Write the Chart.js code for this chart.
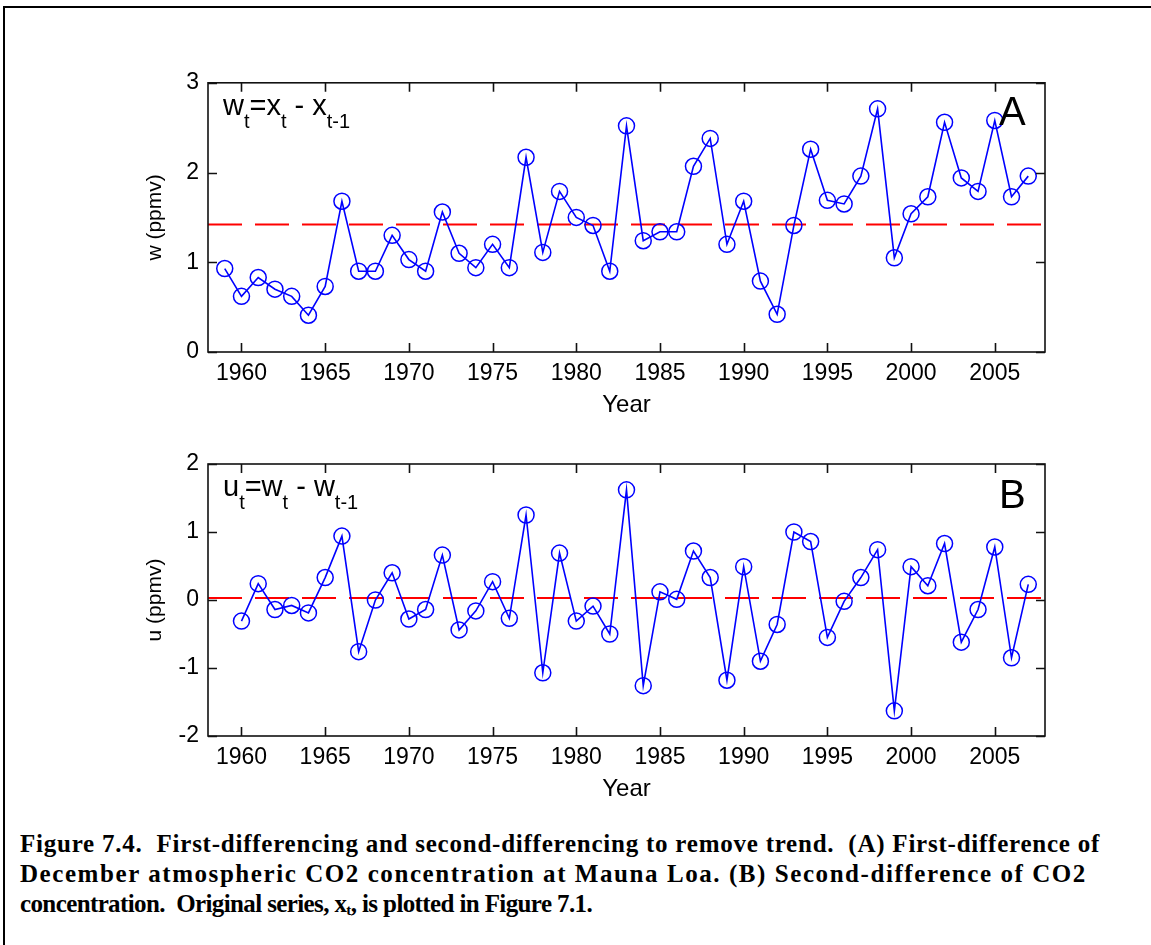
<!DOCTYPE html>
<html>
<head>
<meta charset="utf-8">
<script src="https://cdn.jsdelivr.net/npm/chart.js@4.4.1/dist/chart.umd.min.js"></script>
<style>
  body { margin: 0; background: #fff; width: 1151px; height: 945px; overflow: hidden; position: relative; }
  #frame { position: absolute; left: 3px; top: 6px; width: 1200px; height: 1000px;
           border-left: 2px solid #000; border-top: 2px solid #000; }
  .panel { position: absolute; left: 143px; }
  #caption { position: absolute; left: 20px; top: 829px;
             font: bold 25px "Liberation Serif", "Times New Roman", serif;
             line-height: 30px; color: #000; }
  #caption span { display: inline-block; white-space: pre; }
  #caption sub { font-size: 15px; vertical-align: -3px; line-height: 0; }
</style>
</head>
<body>
<div id="frame"></div>
<canvas id="chartW" class="panel" width="915" height="360" style="top:60px"></canvas>
<canvas id="chartU" class="panel" width="915" height="364" style="top:440px"></canvas>
<div id="caption">
  <span data-fit="1080">Figure 7.4.  First-differencing and second-differencing to remove trend.  (A) First-difference of</span><br>
  <span data-fit="1067">December atmospheric CO2 concentration at Mauna Loa. (B) Second-difference of CO2</span><br>
  <span data-fit="572">concentration.  Original series, x<sub>t</sub>, is plotted in Figure 7.1.</span>
</div>
<script>
// first difference w, 1959-2007
const wYears = [1959, 1960, 1961, 1962, 1963, 1964, 1965, 1966, 1967, 1968,
                1969, 1970, 1971, 1972, 1973, 1974, 1975, 1976, 1977, 1978,
                1979, 1980, 1981, 1982, 1983, 1984, 1985, 1986, 1987, 1988,
                1989, 1990, 1991, 1992, 1993, 1994, 1995, 1996, 1997, 1998,
                1999, 2000, 2001, 2002, 2003, 2004, 2005, 2006, 2007];
const wValues = [0.93, 0.62, 0.83, 0.70, 0.62, 0.41, 0.73, 1.68, 0.90, 0.90,
                 1.30, 1.03, 0.90, 1.56, 1.10, 0.94, 1.20, 0.94, 2.17, 1.11,
                 1.79, 1.50, 1.41, 0.90, 2.52, 1.24, 1.34, 1.34, 2.07, 2.38,
                 1.20, 1.68, 0.79, 0.42, 1.41, 2.26, 1.69, 1.65, 1.96, 2.71,
                 1.05, 1.54, 1.73, 2.56, 1.94, 1.79, 2.58, 1.73, 1.96];
const wMean = 1.42;

// second difference u, 1960-2007
const uYears = [1960, 1961, 1962, 1963, 1964, 1965, 1966, 1967, 1968, 1969,
                1970, 1971, 1972, 1973, 1974, 1975, 1976, 1977, 1978, 1979,
                1980, 1981, 1982, 1983, 1984, 1985, 1986, 1987, 1988, 1989,
                1990, 1991, 1992, 1993, 1994, 1995, 1996, 1997, 1998, 1999,
                2000, 2001, 2002, 2003, 2004, 2005, 2006, 2007];
const uValues = [-0.31, 0.24, -0.14, -0.08, -0.19, 0.33, 0.94, -0.76, 0.00, 0.40,
                 -0.28, -0.14, 0.66, -0.44, -0.16, 0.27, -0.27, 1.25, -1.07, 0.69,
                 -0.31, -0.09, -0.50, 1.62, -1.26, 0.12, 0.01, 0.72, 0.33, -1.18,
                 0.49, -0.90, -0.36, 1.00, 0.86, -0.55, -0.02, 0.33, 0.74, -1.63,
                 0.49, 0.21, 0.83, -0.62, -0.14, 0.78, -0.85, 0.23];
const uMean = 0.03;

const xRange = [1958, 2008];
const xTicks = [1960, 1965, 1970, 1975, 1980, 1985, 1990, 1995, 2000, 2005];
const wTicks = [0, 1, 2, 3];
const uTicks = [-2, -1, 0, 1, 2];

const FONT = '"Liberation Sans", Arial, sans-serif';

// caption lines are spread/squeezed to the widths seen on the scanned page
document.querySelectorAll('#caption span[data-fit]').forEach(el => {
  const target = +el.dataset.fit;
  const n = el.textContent.length;
  el.style.letterSpacing = ((target - el.offsetWidth) / n) + 'px';
});

// box with inward ticks on all sides, plus the in-plot labels
const framePlugin = {
  id: 'frame',
  afterDatasetsDraw(chart, args, opts) {
    const {ctx, chartArea: a, scales: {x, y}} = chart;
    ctx.save();
    ctx.strokeStyle = '#111';
    ctx.lineWidth = 1.6;
    ctx.strokeRect(a.left, a.top, a.right - a.left, a.bottom - a.top);
    ctx.beginPath();
    x.ticks.forEach(t => {
      const px = Math.round(x.getPixelForValue(t.value)) + 0.5;
      ctx.moveTo(px, a.bottom); ctx.lineTo(px, a.bottom - 9);
      ctx.moveTo(px, a.top); ctx.lineTo(px, a.top + 9);
    });
    y.ticks.forEach(t => {
      const py = Math.round(y.getPixelForValue(t.value)) + 0.5;
      ctx.moveTo(a.left, py); ctx.lineTo(a.left + 9, py);
      ctx.moveTo(a.right, py); ctx.lineTo(a.right - 9, py);
    });
    ctx.stroke();

    // formula like w_t = x_t - x_{t-1}
    ctx.fillStyle = '#000';
    ctx.textBaseline = 'alphabetic';
    let tx = a.left + 15;
    const base = a.top + 32;
    opts.parts.forEach(([txt, sub]) => {
      ctx.font = (sub ? '20px ' : '29px ') + FONT;
      ctx.fillText(txt, tx, sub ? base + 13 : base);
      tx += ctx.measureText(txt).width;
    });

    ctx.font = '40px ' + FONT;
    ctx.fillText(opts.letter, a.right - 46, a.top + opts.letterDy);
    ctx.restore();
  }
};

function makePanel(id, years, values, mean, yMin, yMax, yTicks, yTitle, topPad, parts, letter, letterDy) {
  const pts = years.map((yr, i) => ({x: yr, y: values[i]}));
  return new Chart(document.getElementById(id), {
    type: 'line',
    data: {
      datasets: [
        {
          data: pts,
          borderColor: '#0000ff',
          borderWidth: 1.6,
          pointStyle: 'circle',
          pointRadius: 8,
          pointBorderWidth: 1.5,
          pointBorderColor: '#0000ff',
          pointBackgroundColor: 'rgba(0,0,0,0)',
          tension: 0,
          clip: false
        },
        {
          data: [{x: xRange[0], y: mean}, {x: xRange[1], y: mean}],
          borderColor: '#ff0000',
          borderWidth: 2,
          borderDash: [34, 13],
          pointRadius: 0
        }
      ]
    },
    options: {
      responsive: false,
      animation: false,
      layout: {padding: {top: topPad, right: 13, left: 0, bottom: 0}},
      plugins: {
        legend: {display: false},
        tooltip: {enabled: false},
        frame: {parts: parts, letter: letter, letterDy: letterDy}
      },
      scales: {
        x: {
          type: 'linear',
          min: xRange[0],
          max: xRange[1],
          grid: {display: false, drawTicks: false},
          border: {display: false},
          afterBuildTicks: s => { s.ticks = xTicks.map(v => ({value: v})); },
          afterFit: s => { s.height = 68; },
          ticks: {
            autoSkip: false, maxRotation: 0, padding: 8,
            color: '#000', font: {family: FONT, size: 23},
            callback: v => String(v)
          },
          title: {display: true, text: 'Year', color: '#000', padding: 0, font: {family: FONT, size: 24}}
        },
        y: {
          min: yMin,
          max: yMax,
          grid: {display: false, drawTicks: false},
          border: {display: false},
          afterBuildTicks: s => { s.ticks = yTicks.map(v => ({value: v})); },
          afterFit: s => { s.width = 65; },
          ticks: {
            padding: 9, color: '#000', font: {family: FONT, size: 23},
            callback: v => String(v)
          },
          title: {display: true, text: yTitle, color: '#000', padding: 0, font: {family: FONT, size: 21}}
        }
      }
    },
    plugins: [framePlugin]
  });
}

makePanel('chartW', wYears, wValues, wMean, 0, 3, wTicks, 'w (ppmv)', 21,
  [['w', false], ['t', true], ['=x', false], ['t', true], [' - x', false], ['t-1', true]], 'A', 42);
makePanel('chartU', uYears, uValues, uMean, -2, 2, uTicks, 'u (ppmv)', 24,
  [['u', false], ['t', true], ['=w', false], ['t', true], [' - w', false], ['t-1', true]], 'B', 44);
</script>
</body>
</html>
